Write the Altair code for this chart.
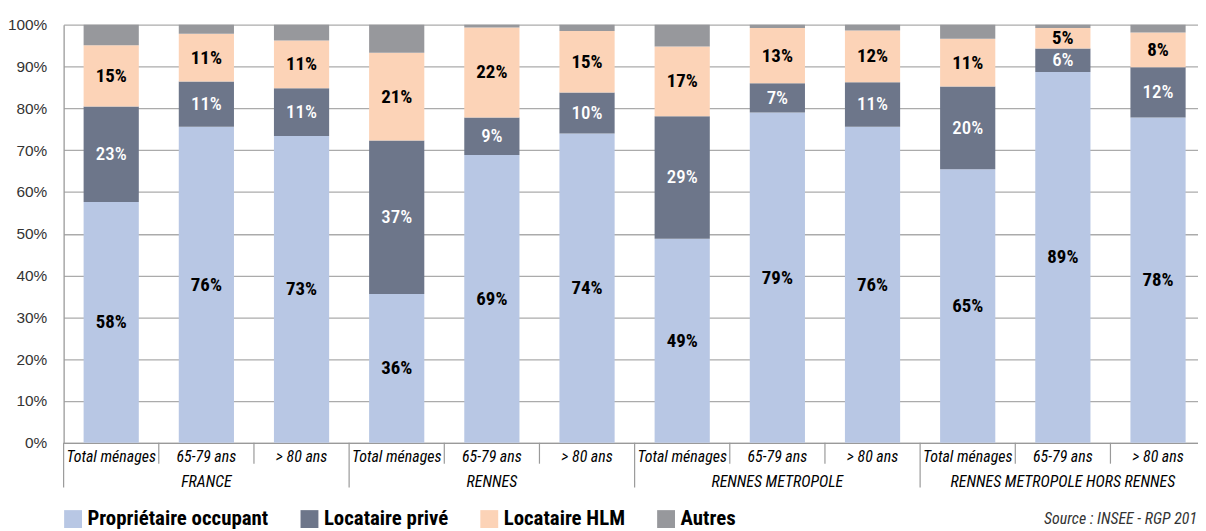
import altair as alt
import pandas as pd

# ---------------- data ----------------
categories = ["Total ménages", "65-79 ans", "> 80 ans"] * 4
groups = ["FRANCE", "RENNES", "RENNES METROPOLE", "RENNES METROPOLE HORS RENNES"]
series_names = ["Propriétaire occupant", "Locataire privé", "Locataire HLM", "Autres"]
series_colors = ["#B8C7E4", "#6D768A", "#FCD3B7", "#97989C"]

po = [57.6, 75.6, 73.4, 35.6, 68.8, 74.0, 48.8, 79.0, 75.6, 65.4, 88.7, 77.8]
lp = [22.8, 10.8, 11.4, 36.7, 9.0, 9.8, 29.3, 7.0, 10.6, 19.8, 5.6, 12.0]
hlm = [14.7, 11.4, 11.4, 21.0, 21.5, 14.7, 16.7, 13.2, 12.4, 11.4, 4.9, 8.3]
autres = [4.9, 2.2, 3.8, 6.7, 0.7, 1.5, 5.2, 0.8, 1.4, 3.4, 0.8, 1.9]
y_ticks = list(range(0, 101, 10))
source_text = "Source : INSEE - RGP 201"

NARROW = "Liberation Sans Narrow, Arial Narrow, Roboto Condensed, DejaVu Sans Condensed, sans-serif"
REG = "Liberation Sans, Arial, sans-serif"

W, H = 1142, 421
XMAX = 11.92

rows = []
for i in range(len(categories)):
    base = 0.0
    for k, (name, vals) in enumerate(zip(series_names, [po, lp, hlm, autres])):
        v = vals[i]
        rows.append(dict(idx=i, serie=name, k=k, value=v, y0=base, y1=base + v,
                         x0=i + 0.21, x1=i + 0.79, xc=i + 0.5, ym=base + v / 2,
                         label=f"{round(v)}%"))
        base += v
df = pd.DataFrame(rows)

cats_df = pd.DataFrame({"cat": categories, "xc": [i + 0.5 for i in range(len(categories))]})
grp_df = pd.DataFrame({"grp": groups, "xc": [g * 3 + 1.5 for g in range(len(groups))]})
bounds = pd.DataFrame({"b": list(range(len(categories))),
                       "long": [i % 3 == 0 for i in range(len(categories))]})
src_df = pd.DataFrame({"t": [source_text]})

xs = alt.Scale(domain=[0, XMAX], nice=False, zero=False)
ys = alt.Scale(domain=[0, 100], nice=False)

x_axis = alt.Axis(labels=False, ticks=False, grid=False, domain=True,
                  domainColor="#9a9a9a", domainWidth=1.3, title=None)
y_axis = alt.Axis(values=y_ticks, labelExpr="datum.value + '%'",
                  labelFont=REG, labelFontSize=15.5, labelColor="#333333",
                  labelPadding=17, ticks=False, domain=True,
                  domainColor="#9a9a9a", domainWidth=1.3,
                  grid=True, gridColor="#ababab", gridWidth=1.3, title=None)

bars = alt.Chart(df).mark_bar(strokeWidth=0).encode(
    x=alt.X("x0:Q", scale=xs, axis=x_axis),
    x2="x1:Q",
    y=alt.Y("y0:Q", scale=ys, axis=y_axis),
    y2="y1:Q",
    color=alt.Color("serie:N", scale=alt.Scale(domain=series_names, range=series_colors),
                    legend=alt.Legend(title=None, orient="none", legendX=-1, legendY=487,
                                      direction="horizontal", symbolType="square", symbolSize=324,
                                      symbolStrokeWidth=0, labelFont=NARROW, labelFontSize=21,
                                      labelFontWeight="bold", labelColor="#000000",
                                      columnPadding=30, labelLimit=400, labelOffset=4)),
)

lab_dark = alt.Chart(df[df.serie.isin([series_names[0], series_names[2]])]).mark_text(
    font=NARROW, fontSize=19, fontWeight="bold", color="#000000", baseline="middle").encode(
    x=alt.X("xc:Q", scale=xs, axis=x_axis), y=alt.Y("ym:Q", scale=ys, axis=y_axis), text="label:N")

lab_light = alt.Chart(df[df.serie == series_names[1]]).mark_text(
    font=NARROW, fontSize=19, fontWeight=500, color="#ffffff", baseline="middle").encode(
    x=alt.X("xc:Q", scale=xs, axis=x_axis), y=alt.Y("ym:Q", scale=ys, axis=y_axis), text="label:N")

sep_short = alt.Chart(bounds[~bounds.long]).mark_rule(color="#9a9a9a", strokeWidth=1.2).encode(
    x=alt.X("b:Q", scale=xs, axis=x_axis), y=alt.value(H), y2=alt.value(H + 21))
sep_long = alt.Chart(bounds[bounds.long]).mark_rule(color="#9a9a9a", strokeWidth=1.2).encode(
    x=alt.X("b:Q", scale=xs, axis=x_axis), y=alt.value(H), y2=alt.value(H + 45))

cat_text = alt.Chart(cats_df).mark_text(font=NARROW, fontSize=16, fontStyle="italic",
                                        color="#000000", baseline="middle").encode(
    x=alt.X("xc:Q", scale=xs, axis=x_axis), y=alt.value(H + 14), text="cat:N")
grp_text = alt.Chart(grp_df).mark_text(font=NARROW, fontSize=16, fontStyle="italic",
                                       color="#000000", baseline="middle").encode(
    x=alt.X("xc:Q", scale=xs, axis=x_axis), y=alt.value(H + 39), text="grp:N")
src_text = alt.Chart(src_df).mark_text(font=NARROW, fontSize=16, fontStyle="italic",
                                       color="#333333", baseline="middle", align="right").encode(
    x=alt.value(W - 1), y=alt.value(H + 77), text="t:N")

chart = alt.layer(bars, lab_dark, lab_light, sep_short, sep_long, cat_text, grp_text, src_text).properties(
    width=W, height=H,
    padding={"left": 56, "top": 15, "right": 0, "bottom": 87},
    autosize=alt.AutoSizeParams(type="none"),
).configure_view(stroke=None)

chart.save("out.html", embed_options={"renderer": "svg", "actions": False})
